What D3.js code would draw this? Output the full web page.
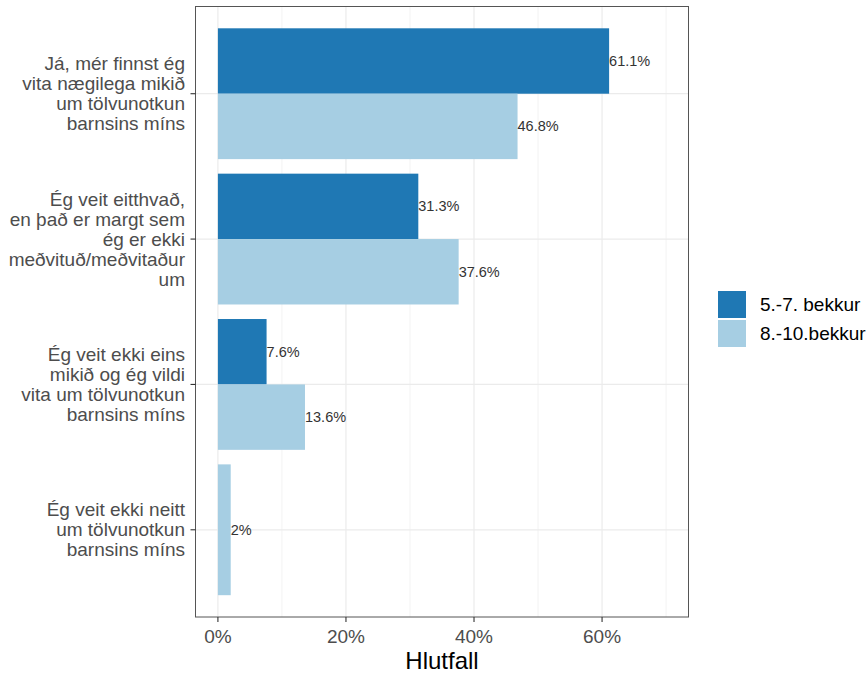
<!DOCTYPE html>
<html><head><meta charset="utf-8">
<script src="https://cdn.jsdelivr.net/npm/d3@7"></script>
<style>body{margin:0;background:#fff;} text{font-family:"Liberation Sans",Arial,sans-serif;}</style>
</head><body>
<svg id="chart" width="868" height="677"></svg>
<script>
const categories = [
  "Já, mér finnst ég\nvita nægilega mikið\num tölvunotkun\nbarnsins míns",
  "Ég veit eitthvað,\nen það er margt sem\nég er ekki\nmeðvituð/meðvitaður\num",
  "Ég veit ekki eins\nmikið og ég vildi\nvita um tölvunotkun\nbarnsins míns",
  "Ég veit ekki neitt\num tölvunotkun\nbarnsins míns"
];
const seriesNames = ["5.-7. bekkur", "8.-10.bekkur"];
const seriesColors = ["#1F78B4", "#A6CEE3"];
const values_5_7 = [61.1, 31.3, 7.6, null];
const values_8_10 = [46.8, 37.6, 13.6, 2];
const xTicks = [0, 20, 40, 60];
const xMinor = [10, 30, 50, 70];
const xTitle = "Hlutfall";

const svg = d3.select("#chart");
const P = {l: 195.5, r: 688.5, t: 6.5, b: 617};
const x = d3.scaleLinear().domain([-3.5, 73.5]).range([P.l, P.r]);
const y = d3.scaleBand().domain(d3.range(categories.length)).range([P.t, P.b]).paddingInner(0.1).paddingOuter(0.15);
const center = i => y(i) + y.bandwidth() / 2;

// panel grid
const g = svg.append("g");
g.selectAll(".minor").data(xMinor).join("line")
  .attr("x1", d => x(d)).attr("x2", d => x(d)).attr("y1", P.t).attr("y2", P.b)
  .attr("stroke", "#EBEBEB").attr("stroke-width", 0.6);
g.selectAll(".major").data(xTicks).join("line")
  .attr("x1", d => x(d)).attr("x2", d => x(d)).attr("y1", P.t).attr("y2", P.b)
  .attr("stroke", "#EBEBEB").attr("stroke-width", 1.2);
g.selectAll(".hmajor").data(d3.range(categories.length)).join("line")
  .attr("x1", P.l).attr("x2", P.r).attr("y1", d => center(d)).attr("y2", d => center(d))
  .attr("stroke", "#EBEBEB").attr("stroke-width", 1.2);

// bars
const rows = [];
categories.forEach((c, i) => {
  const present = [];
  if (values_5_7[i] != null) present.push({s: 0, v: values_5_7[i]});
  if (values_8_10[i] != null) present.push({s: 1, v: values_8_10[i]});
  const sub = d3.scaleBand().domain(present.map(p => p.s)).range([y(i), y(i) + y.bandwidth()]);
  present.forEach(p => rows.push({i, s: p.s, v: p.v, y0: sub(p.s), h: sub.bandwidth()}));
});
svg.append("g").selectAll("rect").data(rows).join("rect")
  .attr("x", x(0)).attr("y", d => d.y0).attr("width", d => x(d.v) - x(0)).attr("height", d => d.h)
  .attr("fill", d => seriesColors[d.s]);
svg.append("g").selectAll("text").data(rows).join("text")
  .attr("x", d => x(d.v)).attr("y", d => d.y0 + d.h / 2).attr("dy", "0.35em")
  .attr("font-size", 14.5).attr("fill", "#333")
  .text(d => d.v + "%");

// border
svg.append("rect").attr("x", P.l).attr("y", P.t).attr("width", P.r - P.l).attr("height", P.b - P.t)
  .attr("fill", "none").attr("stroke", "#555").attr("stroke-width", 1);

// y axis
const ya = svg.append("g");
categories.forEach((c, i) => {
  const cy = center(i);
  ya.append("line").attr("x1", P.l - 5).attr("x2", P.l).attr("y1", cy).attr("y2", cy)
    .attr("stroke", "#333").attr("stroke-width", 1.1);
  const lines = c.split("\n");
  const lh = 20;
  const t = ya.append("text").attr("text-anchor", "end").attr("font-size", 19).attr("fill", "#4D4D4D");
  lines.forEach((ln, k) => {
    t.append("tspan").attr("x", 185).attr("y", cy + (k - (lines.length - 1) / 2) * lh).attr("dy", "0.35em").text(ln);
  });
});

// x axis
const xa = svg.append("g");
xTicks.forEach(v => {
  xa.append("line").attr("x1", x(v)).attr("x2", x(v)).attr("y1", P.b).attr("y2", P.b + 5)
    .attr("stroke", "#333").attr("stroke-width", 1.1);
  xa.append("text").attr("x", x(v)).attr("y", 643).attr("text-anchor", "middle")
    .attr("font-size", 19).attr("fill", "#4D4D4D").text(v + "%");
});
svg.append("text").attr("x", (P.l + P.r) / 2).attr("y", 669).attr("text-anchor", "middle")
  .attr("font-size", 24).attr("fill", "#000").text(xTitle);

// legend
const lg = svg.append("g");
seriesNames.forEach((n, k) => {
  const ky = 291 + k * 29;
  lg.append("rect").attr("x", 718).attr("y", ky).attr("width", 28).attr("height", 27).attr("fill", seriesColors[k]);
  lg.append("text").attr("x", 760).attr("y", ky + 13.5).attr("dy", "0.35em")
    .attr("font-size", 19).attr("fill", "#000").text(n);
});
</script>
</body></html>
